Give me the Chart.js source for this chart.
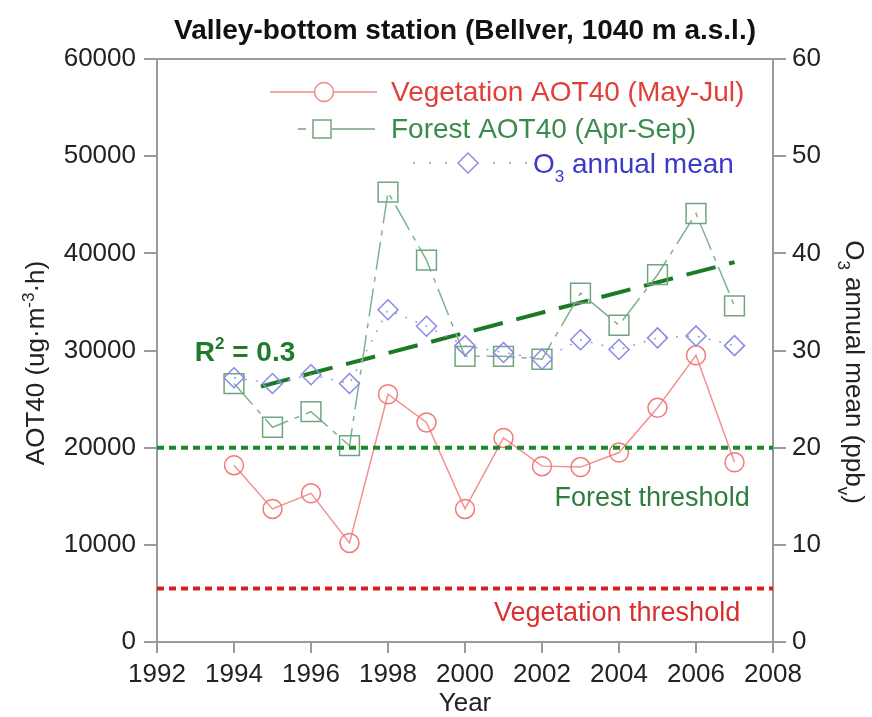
<!DOCTYPE html>
<html><head><meta charset="utf-8">
<script src="https://cdn.jsdelivr.net/npm/chart.js@4/dist/chart.umd.min.js"></script>
<style>html,body{margin:0;padding:0;background:#fff}#c{display:block}</style>
</head><body>
<canvas id="c" width="872" height="717"></canvas>
<script>
// ---- data ----
const years = [1994,1995,1996,1997,1998,1999,2000,2001,2002,2003,2004,2005,2006,2007];
const vegetationAOT40 = [18200,13700,15300,10200,25500,22600,13700,21000,18100,18000,19500,24100,29500,18500];
const forestAOT40 = [26600,22100,23700,20200,46300,39300,29400,29400,29100,35900,32600,37800,44100,34600];
const o3AnnualMean = [27.2,26.6,27.5,26.6,34.2,32.5,30.5,29.8,29.1,31.1,30.1,31.3,31.5,30.5];
const trendYears = [1994.7, 2007];
const trendValues = [26300, 39100];
const forestThreshold = 20000;
const vegetationThreshold = 5500;
const xRange = [1992, 2008];
const xStep = 2;
const leftRange = [0, 60000];
const leftStep = 10000;
const rightRange = [0, 60];
const rightStep = 10;

const FAM = '"Liberation Sans", Arial, Helvetica, sans-serif';
const TICK = '#222';
const AXIS = '#9a9a9a';

const pts = (xs, ys) => xs.map((x, i) => ({x: x, y: ys[i]}));
const flat = v => [{x: xRange[0], y: v}, {x: xRange[1], y: v}];

function drawRich(ctx, parts, cx, cy, rot, color, align) {
  ctx.save();
  ctx.translate(cx, cy);
  ctx.rotate(rot);
  ctx.fillStyle = color;
  ctx.textBaseline = 'alphabetic';
  ctx.textAlign = 'left';
  let total = 0, main = 0;
  parts.forEach(p => {
    ctx.font = (p.bold ? 'bold ' : '') + p.size + 'px ' + FAM;
    p.w = ctx.measureText(p.t).width;
    total += p.w;
    main = Math.max(main, p.size);
  });
  let x = align === 'left' ? 0 : -total / 2;
  const base = 0.36 * main;
  parts.forEach(p => {
    ctx.font = (p.bold ? 'bold ' : '') + p.size + 'px ' + FAM;
    ctx.fillText(p.t, x, base + (p.dy || 0));
    x += p.w;
  });
  ctx.restore();
}

const overlay = {
  id: 'overlay',
  afterDraw(chart) {
    const ctx = chart.ctx, ca = chart.chartArea;
    const xs = chart.scales.x, ys = chart.scales.y;
    ctx.save();
    // top frame line
    ctx.strokeStyle = AXIS; ctx.lineWidth = 2;
    ctx.beginPath(); ctx.moveTo(ca.left, ca.top); ctx.lineTo(ca.right, ca.top); ctx.stroke();

    // title
    ctx.fillStyle = '#111';
    ctx.font = 'bold 28px ' + FAM;
    ctx.textAlign = 'center'; ctx.textBaseline = 'middle';
    ctx.fillText('Valley-bottom station (Bellver, 1040 m a.s.l.)', (ca.left + ca.right) / 2, 31);

    // axis titles
    drawRich(ctx, [{t:'AOT40 (ug\u00B7m', size:26}, {t:'-3', size:17, dy:-10}, {t:'\u00B7h)', size:26}],
      35, 363, -Math.PI / 2, TICK);
    drawRich(ctx, [{t:'O', size:26}, {t:'3', size:17, dy:8}, {t:' annual mean (ppb', size:26}, {t:'v', size:17, dy:8}, {t:')', size:26}],
      855, 372, Math.PI / 2, TICK);

    // annotations
    drawRich(ctx, [{t:'R', size:28, bold:true}, {t:'2', size:17, bold:true, dy:-12}, {t:' = 0.3', size:28, bold:true}],
      xs.getPixelForValue(1992.98), ys.getPixelForValue(29950), 0, '#1f7a2a', 'left');
    ctx.font = '27px ' + FAM; ctx.textAlign = 'center'; ctx.textBaseline = 'middle';
    ctx.fillStyle = '#2e7d3e';
    ctx.fillText('Forest threshold', xs.getPixelForValue(2004.86), ys.getPixelForValue(14800));
    ctx.fillStyle = '#d83030';
    ctx.fillText('Vegetation threshold', xs.getPixelForValue(2003.95), ys.getPixelForValue(2950));

    // legend
    ctx.lineWidth = 1.5;
    // row 1
    ctx.strokeStyle = '#f08a8a';
    ctx.beginPath(); ctx.moveTo(270, 92); ctx.lineTo(377, 92); ctx.stroke();
    ctx.fillStyle = '#fff';
    ctx.beginPath(); ctx.arc(324, 92, 9.5, 0, Math.PI * 2); ctx.fill(); ctx.stroke();
    // row 2
    ctx.strokeStyle = '#6fa57f';
    ctx.beginPath(); ctx.moveTo(298, 129); ctx.lineTo(306, 129); ctx.moveTo(332, 129); ctx.lineTo(375, 129); ctx.stroke();
    ctx.beginPath(); ctx.rect(313, 120, 18, 18); ctx.fill(); ctx.stroke();
    // row 3
    ctx.strokeStyle = '#9090e4';
    ctx.setLineDash([2, 14]);
    ctx.beginPath(); ctx.moveTo(413, 163); ctx.lineTo(527, 163); ctx.stroke();
    ctx.setLineDash([]);
    ctx.beginPath(); ctx.moveTo(468, 153); ctx.lineTo(478, 163); ctx.lineTo(468, 173); ctx.lineTo(458, 163); ctx.closePath();
    ctx.fill(); ctx.stroke();

    ctx.textAlign = 'left'; ctx.textBaseline = 'middle';
    ctx.font = '28px ' + FAM;
    ctx.fillStyle = '#e0403a';
    ctx.fillText('Vegetation AOT40 (May-Jul)', 391, 93);
    ctx.fillStyle = '#3b8a4e';
    ctx.fillText('Forest AOT40 (Apr-Sep)', 391, 130);
    drawRich(ctx, [{t:'O', size:28}, {t:'3', size:17, dy:9}, {t:' annual mean', size:28}], 533, 163, 0, '#3a3acb', 'left');
    ctx.restore();
  }
};

new Chart(document.getElementById('c'), {
  type: 'line',
  data: {
    datasets: [
      {label: 'Forest threshold', data: flat(forestThreshold), yAxisID: 'y', borderColor: '#1a8a2a', borderWidth: 4,
       borderDash: [7, 5], pointRadius: 0, fill: false},
      {label: 'Vegetation threshold', data: flat(vegetationThreshold), yAxisID: 'y', borderColor: '#d81e1e', borderWidth: 4,
       borderDash: [7, 5], pointRadius: 0, fill: false},
      {label: 'O3 annual mean', data: pts(years, o3AnnualMean), yAxisID: 'y2', borderColor: '#9a9ae8', borderWidth: 1.5,
       borderDash: [2, 9], pointStyle: 'rectRot', pointRadius: 10, pointBorderColor: '#8a8ae4', pointBorderWidth: 1.5,
       pointBackgroundColor: 'rgba(0,0,0,0)', fill: false, tension: 0},
      {label: 'Forest AOT40 (Apr-Sep)', data: pts(years, forestAOT40), yAxisID: 'y', borderColor: '#7fb28e', borderWidth: 1.5,
       borderDash: [28, 7, 5, 7], pointStyle: 'rect', pointRadius: 14, pointBorderColor: '#6fa57f', pointBorderWidth: 1.5,
       pointBackgroundColor: 'rgba(0,0,0,0)', fill: false, tension: 0},
      {label: 'Trend', data: pts(trendYears, trendValues), yAxisID: 'y', borderColor: '#1c7a22', borderWidth: 4,
       borderDash: [30, 14], pointRadius: 0, fill: false},
      {label: 'Vegetation AOT40 (May-Jul)', data: pts(years, vegetationAOT40), yAxisID: 'y', borderColor: '#f39090', borderWidth: 1.5,
       pointStyle: 'circle', pointRadius: 9.5, pointBorderColor: '#f07a7a', pointBorderWidth: 1.5,
       pointBackgroundColor: 'rgba(0,0,0,0)', fill: false, tension: 0}
    ]
  },
  options: {
    responsive: false,
    animation: false,
    devicePixelRatio: 1,
    layout: {padding: {top: 59, left: 0, right: 0, bottom: 0}},
    plugins: {legend: {display: false}, tooltip: {enabled: false}},
    scales: {
      x: {
        type: 'linear', min: xRange[0], max: xRange[1],
        ticks: {stepSize: xStep, autoSkip: false, maxRotation: 0, color: TICK, padding: 6,
                font: {family: FAM, size: 26}, callback: v => String(v)},
        grid: {drawOnChartArea: false, drawTicks: true, tickLength: 11, color: AXIS, lineWidth: 2},
        border: {color: AXIS, width: 2},
        title: {display: true, text: 'Year', color: TICK, font: {family: FAM, size: 26, lineHeight: 1}, padding: {top: 0, bottom: 0}},
        afterFit: s => { s.height = 75; }
      },
      y: {
        type: 'linear', position: 'left', min: leftRange[0], max: leftRange[1],
        ticks: {stepSize: leftStep, color: TICK, padding: 8, font: {family: FAM, size: 26}, callback: v => String(v)},
        grid: {drawOnChartArea: false, drawTicks: true, tickLength: 13, color: AXIS, lineWidth: 2},
        border: {color: AXIS, width: 2},
        afterFit: s => { s.width = 157; }
      },
      y2: {
        type: 'linear', position: 'right', min: rightRange[0], max: rightRange[1],
        ticks: {stepSize: rightStep, color: TICK, padding: 6, font: {family: FAM, size: 26}, callback: v => String(v)},
        grid: {drawOnChartArea: false, drawTicks: true, tickLength: 13, color: AXIS, lineWidth: 2},
        border: {color: AXIS, width: 2},
        afterFit: s => { s.width = 99; }
      }
    }
  },
  plugins: [overlay]
});
</script>
</body></html>
